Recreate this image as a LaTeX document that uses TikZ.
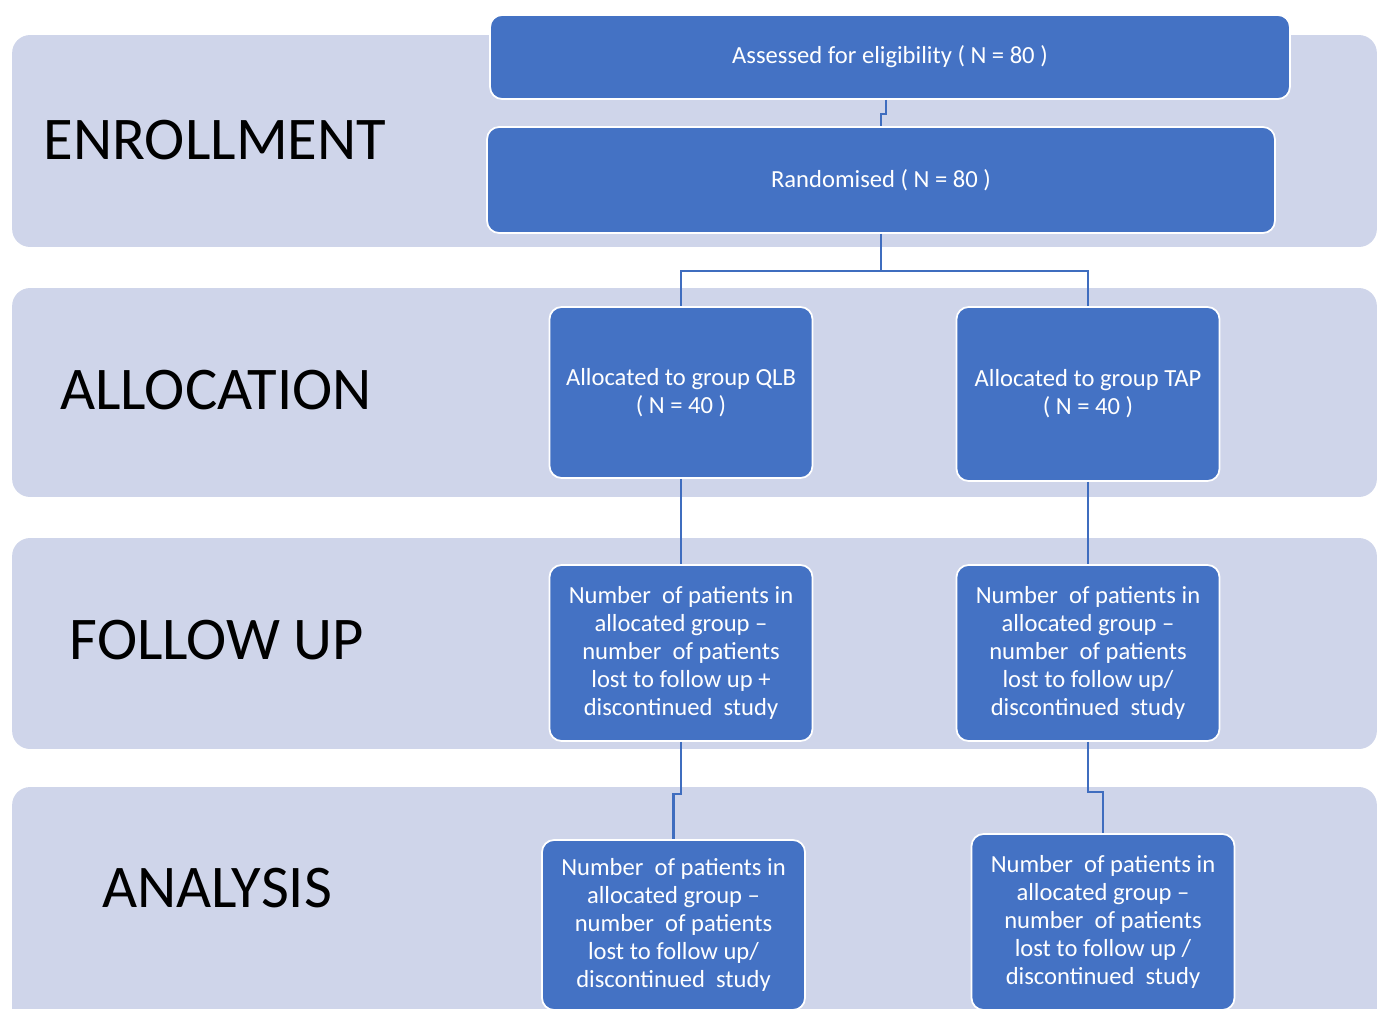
\documentclass[tikz,border=0pt]{standalone}
\usepackage{fontspec}
\setmainfont{Carlito}
\usepackage{xcolor}
\usetikzlibrary{positioning,calc}

\definecolor{bandgray}{HTML}{CFD5EA}
\definecolor{boxblue}{HTML}{4472C4}
\definecolor{linkblue}{HTML}{3F6DBF}

\begin{document}
\begin{tikzpicture}[
  x=0.02cm, y=-0.02cm,
  every node/.style={font=\fontsize{14}{16}\selectfont},
  band/.style={fill=bandgray, rounded corners=0.36cm, minimum width=27.3cm, inner sep=0pt},
  stage/.style={font=\fontsize{34.5}{40}\selectfont, text=black},
  box/.style={draw=white, line width=1pt, fill=boxblue, rounded corners=0.24cm, text=white, align=center, inner sep=2pt},
  wide/.style={box, minimum height=1.68cm},
  group/.style={box, minimum width=5.26cm, minimum height=3.46cm},
  link/.style={draw=linkblue, line width=1.5pt}
]
\clip (0,0) rectangle (1383,1008);
\fill[white] (0,0) rectangle (1383,1008);

% bands
\node[band, minimum height=4.24cm] (enrollband) at (694.5,141) {};
\node[band, minimum height=4.18cm] (allocband) at (694.5,392.5) {};
\node[band, minimum height=4.22cm] (followband) at (694.5,643.5) {};
\node[band, minimum height=4.86cm] (analysisband) at (694.5,908.5) {};

\node[stage] (enroll) at (215,140) {ENROLLMENT};
\node[stage] (alloc) at (216,390) {ALLOCATION};
\node[stage] (follow) at (217,640) {FOLLOW UP};
\node[stage] (analysis) at (217,888) {ANALYSIS};

% flow boxes
\node[wide, minimum width=16cm] (assess) at (890,57) {Assessed for eligibility ( N = 80 )};
\node[wide, minimum width=15.76cm, minimum height=2.12cm] (rand) at (881,180) {Randomised ( N = 80 )};

\node[group, minimum height=3.42cm] (qlb) at (681,392.5) {Allocated to group QLB\\( N = 40 )};
\node[group, minimum height=3.48cm] (tap) at (1088,394) {Allocated to group TAP\\( N = 40 )};

\node[group, minimum height=3.52cm] (fuqlb) at (681,653) {Number\ \ of patients in\\allocated group –\\number\ \ of patients\\lost to follow up +\\discontinued\ \ study};
\node[group, minimum height=3.52cm] (futap) at (1088,653) {Number\ \ of patients in\\allocated group –\\number\ \ of patients\\lost to follow up/\\discontinued\ \ study};

\node[group, minimum height=3.4cm] (anqlb) at (673.5,925) {Number\ \ of patients in\\allocated group –\\number\ \ of patients\\lost to follow up/\\discontinued\ \ study};
\node[group, minimum height=3.52cm] (antap) at (1103,922) {Number\ \ of patients in\\allocated group –\\number\ \ of patients\\lost to follow up /\\discontinued\ \ study};

% connectors
\draw[link] ([xshift=-0.08cm]assess.south) -- ++(0,14) -| (rand.north);
\draw[link] (rand.south) -- ++(0,37) -| (qlb.north);
\draw[link] (rand.south) -- ++(0,37) -| (tap.north);
\draw[link] (qlb.south) -- (fuqlb.north);
\draw[link] (tap.south) -- (futap.north);
\draw[link] (fuqlb.south) -- ++(0,52) -| (anqlb.north);
\draw[link] (futap.south) -- ++(0,50) -| (antap.north);
\end{tikzpicture}
\end{document}
